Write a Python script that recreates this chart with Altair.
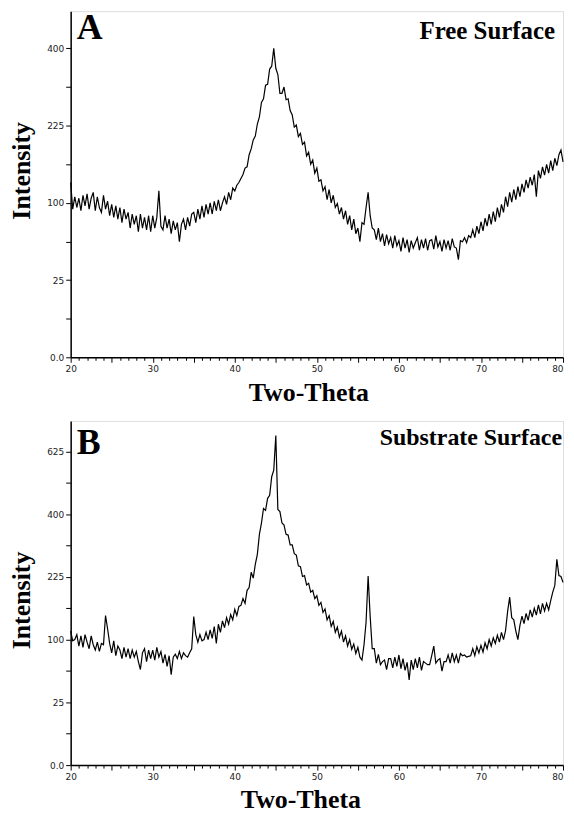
import altair as alt
import numpy as np
import pandas as pd

# 2-theta grid (0.25 degree steps, 20..80)
two_theta = [round(v, 2) for v in np.arange(20, 80.001, 0.25)]

# Panel A: Free Surface intensities
free_surface = [
    128, 92, 108, 94,   106, 90, 110, 96,   112, 92, 106, 114,  90, 108, 94, 88,
    110, 92, 102, 84,   98, 82, 96, 80,     94, 76, 92, 80,     88, 70, 86, 74,
    84, 66, 86, 70,     82, 68, 84, 66,     84, 70, 82, 116,    72, 68, 84, 70,
    80, 64, 78, 68,     76, 56, 74, 80,     68, 82, 72, 86,     88, 76, 92, 80,
    96, 82, 98, 86,     100, 86, 102, 90,   104, 90, 100, 108,  98, 114, 104, 120,
    116, 124, 128, 134, 140, 150, 152, 172, 182, 198, 205, 228, 242, 272, 280, 310,
    312, 348, 355, 400, 350, 335, 292, 292, 306, 278, 280, 255, 246, 222, 226, 204,
    210, 190, 194, 170, 176, 156, 163, 142, 150, 130, 132, 116, 122, 104, 118, 100,
    110, 94, 99, 86,    94, 80, 90, 74,     84, 68, 80, 64,     70, 56, 76, 74,
    94, 114, 84, 70,    68, 58, 70, 56,     64, 52, 63, 54,     60, 50, 62, 52,
    57, 47, 60, 50,     58, 46, 57, 50,     55, 60, 48, 58,     50, 59, 48, 57,
    58, 49, 62, 51,     56, 47, 58, 50,     57, 48, 59, 51,     50, 40, 57, 56,
    60, 55, 62, 60,     68, 60, 72, 64,     77, 67, 81, 72,     86, 74, 89, 77,
    94, 82, 98, 88,     108, 95, 114, 101,  118, 104, 122, 108, 126, 114, 132, 120,
    136, 124, 140, 108, 146, 134, 152, 139, 156, 142, 162, 146, 166, 154, 172, 180,
    160,
]

# Panel B: Substrate Surface intensities
substrate_surface = [
    114, 98, 100, 108,  90, 106, 88, 108,   96, 86, 106, 92,    84, 96, 82, 94,
    92, 142, 118, 94,   80, 98, 76, 90,     84, 72, 88, 74,     86, 72, 84, 74,
    82, 68, 58, 80,     86, 68, 84, 72,     84, 70, 88, 74,     82, 66, 78, 62,
    76, 52, 74, 78,     72, 82, 72, 80,     76, 74, 80, 86,     140, 108, 96, 108,
    98, 100, 112, 100,  116, 102, 122, 94,  126, 112, 132, 120, 138, 126, 144, 134,
    154, 142, 160, 162, 176, 166, 194, 200, 236, 222, 256, 282, 338, 372, 418, 412,
    452, 462, 528, 552, 690, 415, 408, 372, 366, 338, 336, 308, 308, 284, 280, 252,
    250, 226, 228, 206, 210, 190, 194, 176, 182, 162, 168, 148, 155, 134, 142, 122,
    131, 112, 121, 104, 114, 96, 106, 90,   100, 85, 93, 79,     88, 74, 70, 92,
    130, 227, 140, 86,  86, 66, 78, 64,     68, 70, 58, 72,     72, 60, 74, 62,
    77, 59, 72, 57,     67, 46, 70, 58,     72, 60, 74, 57,     68, 66, 64, 64,
    76, 90, 66, 70,     72, 56, 68, 68,     77, 66, 80, 68,     77, 66, 79, 76,
    77, 74, 75, 76,     86, 76, 89, 80,     91, 81, 95, 86,     100, 90, 103, 94,
    107, 96, 112, 100,  115, 150, 179, 138, 134, 114, 100, 124, 141, 127, 146, 133,
    153, 139, 156, 143, 163, 145, 166, 151, 166, 153, 172, 190, 205, 269, 228, 226,
    212,
]

panel_letters = ["A", "B"]
panel_names = ["Free Surface", "Substrate Surface"]
y_max = [502, 752]
y_tick_values_A = [0, 6.25, 25, 56.25, 100, 156.25, 225, 306.25, 400]
y_tick_values_B = [0, 6.25, 25, 56.25, 100, 156.25, 225, 306.25, 400, 506.25, 625]
x_tick_values = list(range(20, 81))

SERIF = "Liberation Serif"
LABEL_FONT = "DejaVu Sans"
PW = 495


def panel(values, letter, name, ymax, yticks, h, title_y, title_x,
          letter_y, name_x, name_y, name_size):
    df = pd.DataFrame({"theta": two_theta, "I": values})
    line = alt.Chart(df).mark_line(color="black", strokeWidth=1.2).encode(
        x=alt.X(
            "theta:Q",
            scale=alt.Scale(domain=[20, 80], nice=False, zero=False),
            axis=alt.Axis(
                values=x_tick_values,
                labelExpr="datum.value % 10 == 0 ? datum.label : ''",
                title="Two-Theta",
                titleFont=SERIF,
                titleFontSize=26,
                titleFontWeight="bold",
                titleColor="black",
                titlePadding=6,
                titleX=title_x,
                labelFont=LABEL_FONT,
                labelFontSize=9,
                labelColor="#222",
                labelPadding=2,
                labelAlign={"condition": {"test": "datum.value >= 80", "value": "right"}, "value": "center"},
                tickSize={"condition": {"test": "datum.value % 5 == 0", "value": 5}, "value": 3},
                tickColor="black",
                domainColor="black",
                domainWidth=1.5,
                grid=False,
                labelFlush=False,
            ),
        ),
        y=alt.Y(
            "I:Q",
            scale=alt.Scale(type="sqrt", domain=[0, ymax], nice=False, zero=True),
            axis=alt.Axis(
                values=yticks,
                labelExpr="datum.value == 0 ? '0.0' : (sqrt(datum.value) % 5 == 0 ? format(datum.value, 'd') : '')",
                title="Intensity",
                titleFont=SERIF,
                titleFontSize=26,
                titleFontWeight="bold",
                titleColor="black",
                titlePadding=12,
                titleY=title_y,
                labelFont=LABEL_FONT,
                labelFontSize=9,
                labelColor="#222",
                labelPadding=2,
                tickSize=5,
                tickColor="black",
                domainColor="black",
                domainWidth=1.5,
                grid=False,
                labelFlush=False,
            ),
        ),
    )
    letter_txt = alt.Chart(pd.DataFrame({"t": [letter]})).mark_text(
        font=SERIF, fontSize=36, fontWeight="bold", align="left", baseline="top",
        color="black", clip=True
    ).encode(text="t:N", x=alt.value(6), y=alt.value(letter_y))
    name_txt = alt.Chart(pd.DataFrame({"t": [name]})).mark_text(
        font=SERIF, fontSize=name_size, fontWeight="bold", align="right", baseline="top",
        color="black", clip=True
    ).encode(text="t:N", x=alt.value(name_x), y=alt.value(name_y))
    return alt.layer(line, letter_txt, name_txt).properties(width=PW, height=h)


pA = panel(free_surface, panel_letters[0], panel_names[0], y_max[0], y_tick_values_A,
           348, 160, 239, 0, 487, 8, 25)
pB = panel(substrate_surface, panel_letters[1], panel_names[1], y_max[1], y_tick_values_B,
           346, 180, 231, 5, 494, 5, 24)

chart = alt.vconcat(pA, pB, spacing=14).properties(
    padding={"left": 0, "top": 0, "right": 0, "bottom": 0}
).configure_view(stroke="black", strokeWidth=1.5).configure(background="white")

chart.save("out.html", embed_options={"renderer": "svg", "actions": False})
